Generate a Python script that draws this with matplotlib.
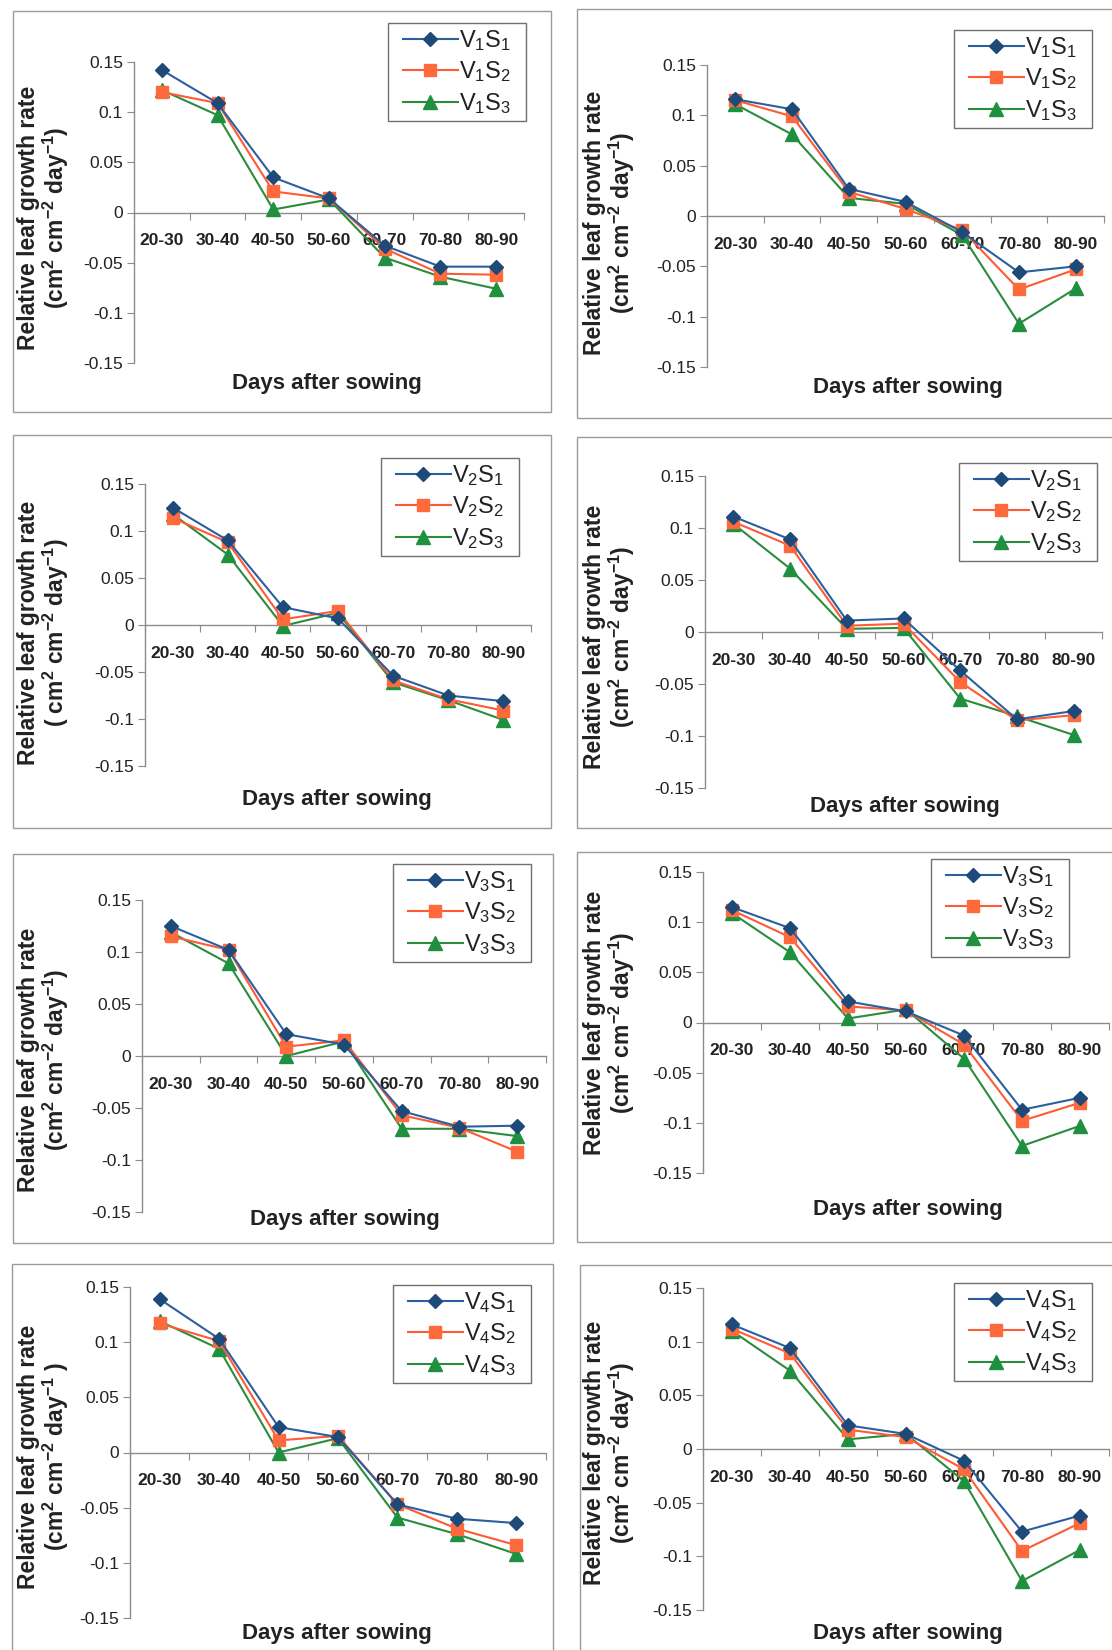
import matplotlib
matplotlib.use('Agg')
import matplotlib.pyplot as plt
from matplotlib.patches import Rectangle
from matplotlib.ticker import FixedLocator, NullFormatter, FixedFormatter

W, H = 1112, 1650
DPI = 100

plt.rcParams['font.family'] = ['Liberation Sans', 'DejaVu Sans']
plt.rcParams['mathtext.fontset'] = 'custom'
plt.rcParams['mathtext.rm'] = 'Liberation Sans'
plt.rcParams['mathtext.it'] = 'Liberation Sans:italic'
plt.rcParams['mathtext.bf'] = 'Liberation Sans:bold'
plt.rcParams['mathtext.default'] = 'regular'

# ---------------- data ----------------
categories = ['20-30', '30-40', '40-50', '50-60', '60-70', '70-80', '80-90']
y_ticks = [0.15, 0.1, 0.05, 0, -0.05, -0.1, -0.15]
y_tick_labels = ['0.15', '0.1', '0.05', '0', '-0.05', '-0.1', '-0.15']
x_label = 'Days after sowing'

# Row 1, left (V1)
v1a_s1 = [0.142, 0.109, 0.035, 0.014, -0.033, -0.054, -0.054]
v1a_s2 = [0.120, 0.109, 0.021, 0.014, -0.036, -0.061, -0.062]
v1a_s3 = [0.122, 0.097, 0.003, 0.013, -0.045, -0.064, -0.076]
# Row 1, right (V1)
v1b_s1 = [0.116, 0.106, 0.027, 0.014, -0.016, -0.056, -0.050]
v1b_s2 = [0.115, 0.099, 0.024, 0.007, -0.014, -0.073, -0.053]
v1b_s3 = [0.111, 0.081, 0.018, 0.012, -0.019, -0.107, -0.072]
# Row 2, left (V2)
v2a_s1 = [0.125, 0.090, 0.019, 0.007, -0.054, -0.075, -0.081]
v2a_s2 = [0.114, 0.088, 0.006, 0.015, -0.059, -0.079, -0.091]
v2a_s3 = [0.118, 0.075, -0.001, 0.013, -0.061, -0.080, -0.101]
# Row 2, right (V2)
v2b_s1 = [0.111, 0.089, 0.011, 0.013, -0.037, -0.084, -0.076]
v2b_s2 = [0.106, 0.083, 0.006, 0.008, -0.048, -0.085, -0.080]
v2b_s3 = [0.104, 0.061, 0.003, 0.004, -0.064, -0.081, -0.099]
# Row 3, left (V3)
v3a_s1 = [0.125, 0.102, 0.021, 0.011, -0.053, -0.068, -0.067]
v3a_s2 = [0.115, 0.102, 0.009, 0.015, -0.057, -0.069, -0.092]
v3a_s3 = [0.119, 0.089, 0.000, 0.014, -0.070, -0.070, -0.077]
# Row 3, right (V3)
v3b_s1 = [0.115, 0.094, 0.021, 0.011, -0.013, -0.087, -0.075]
v3b_s2 = [0.112, 0.085, 0.016, 0.012, -0.022, -0.098, -0.080]
v3b_s3 = [0.109, 0.070, 0.004, 0.013, -0.036, -0.123, -0.103]
# Row 4, left (V4)
v4a_s1 = [0.139, 0.103, 0.023, 0.014, -0.047, -0.060, -0.064]
v4a_s2 = [0.117, 0.101, 0.011, 0.015, -0.047, -0.069, -0.084]
v4a_s3 = [0.119, 0.094, 0.000, 0.013, -0.059, -0.074, -0.092]
# Row 4, right (V4)
v4b_s1 = [0.116, 0.094, 0.022, 0.014, -0.011, -0.077, -0.062]
v4b_s2 = [0.112, 0.089, 0.018, 0.011, -0.019, -0.095, -0.069]
v4b_s3 = [0.110, 0.073, 0.009, 0.014, -0.030, -0.123, -0.094]

v1_names = ['V$_1$S$_1$', 'V$_1$S$_2$', 'V$_1$S$_3$']
v2_names = ['V$_2$S$_1$', 'V$_2$S$_2$', 'V$_2$S$_3$']
v3_names = ['V$_3$S$_1$', 'V$_3$S$_2$', 'V$_3$S$_3$']
v4_names = ['V$_4$S$_1$', 'V$_4$S$_2$', 'V$_4$S$_3$']

ylab_std = 'Relative leaf growth rate\n(cm$^{\\mathbf{2}}$ cm$^{\\mathbf{-2}}$ day$^{\\mathbf{-1}}$)'
ylab_p3 = 'Relative leaf growth rate\n( cm$^{\\mathbf{2}}$ cm$^{\\mathbf{-2}}$ day$^{\\mathbf{-1}}$)'
ylab_p7 = 'Relative leaf growth rate\n(cm$^{\\mathbf{2}}$ cm$^{\\mathbf{-2}}$ day$^{\\mathbf{-1}}$ )'

# ---------------- layout (pixels) ----------------
panels = [
    dict(names=v1_names, data=(v1a_s1, v1a_s2, v1a_s3), frame=(13, 11, 551, 412),
         axes=(134, 524, 62, 363), leg=(526, 23), xl=(327, 383), yl=(44, 218), ylab=ylab_std),
    dict(names=v1_names, data=(v1b_s1, v1b_s2, v1b_s3), frame=(577, 9, 1125, 418),
         axes=(707, 1104, 65, 367), leg=(1092, 30), xl=(908, 388), yl=(610, 223), ylab=ylab_std),
    dict(names=v2_names, data=(v2a_s1, v2a_s2, v2a_s3), frame=(13, 435, 551, 828),
         axes=(145, 531, 484, 766), leg=(519, 458), xl=(337, 800), yl=(44, 633), ylab=ylab_p3),
    dict(names=v2_names, data=(v2b_s1, v2b_s2, v2b_s3), frame=(577, 437, 1125, 828),
         axes=(705, 1102, 476, 788), leg=(1097, 463), xl=(905, 807), yl=(610, 637), ylab=ylab_std),
    dict(names=v3_names, data=(v3a_s1, v3a_s2, v3a_s3), frame=(13, 854, 553, 1243),
         axes=(142, 546, 900, 1212), leg=(531, 864), xl=(345, 1220), yl=(44, 1060), ylab=ylab_std),
    dict(names=v3_names, data=(v3b_s1, v3b_s2, v3b_s3), frame=(577, 852, 1125, 1242),
         axes=(703, 1109, 872, 1173), leg=(1069, 859), xl=(908, 1210), yl=(610, 1023), ylab=ylab_std),
    dict(names=v4_names, data=(v4a_s1, v4a_s2, v4a_s3), frame=(12, 1264, 553, 1700),
         axes=(130, 546, 1287, 1618), leg=(531, 1285), xl=(337, 1633), yl=(44, 1457), ylab=ylab_p7),
    dict(names=v4_names, data=(v4b_s1, v4b_s2, v4b_s3), frame=(580, 1265, 1125, 1700),
         axes=(703, 1109, 1288, 1610), leg=(1092, 1283), xl=(908, 1633), yl=(610, 1453), ylab=ylab_std),
]

line_colors = ['#2b5f9f', '#ff5a36', '#2a8c3c']
face_colors = ['#1d4a78', '#ff6a3d', '#1f9040']
markers = ['D', 's', '^']
msizes = [7.5, 8.5, 10]
LEG_HPAD = 15   # px horizontal padding of legend box
LEG_VPAD = 5    # px vertical padding

fig = plt.figure(figsize=(W / DPI, H / DPI), dpi=DPI)
fig.patch.set_facecolor('white')


def fx(x):
    return x / W


def fy(y):
    return 1 - y / H


legends = []
for p in panels:
    l, t, r, b = p['frame']
    fig.patches.append(Rectangle((fx(l), fy(b)), fx(r) - fx(l), fy(t) - fy(b),
                                 transform=fig.transFigure, fill=False,
                                 edgecolor='#9a9a9a', linewidth=1.0, zorder=0))
    al, ar, at, ab = p['axes']
    ax = fig.add_axes([fx(al), fy(ab), fx(ar) - fx(al), fy(at) - fy(ab)])
    ax.set_facecolor('none')
    x = list(range(len(categories)))
    handles = []
    for i, ys in enumerate(p['data']):
        h, = ax.plot(x, ys, color=line_colors[i], linewidth=1.5,
                     marker=markers[i], markersize=msizes[i],
                     markerfacecolor=face_colors[i], markeredgecolor=face_colors[i],
                     label=p['names'][i], clip_on=False, zorder=3 + (2 - i))
        handles.append(h)
    ax.set_xlim(-0.5, len(categories) - 0.5)
    ax.set_ylim(-0.15, 0.15)
    for s in ['top', 'right']:
        ax.spines[s].set_visible(False)
    ax.spines['bottom'].set_position(('data', 0))
    ax.spines['bottom'].set_color('#8c8c8c')
    ax.spines['left'].set_color('#8c8c8c')
    ax.spines['bottom'].set_linewidth(1.0)
    ax.spines['left'].set_linewidth(1.0)
    ax.xaxis.set_major_locator(FixedLocator([k - 0.5 for k in range(len(categories) + 1)]))
    ax.xaxis.set_major_formatter(NullFormatter())
    ax.xaxis.set_minor_locator(FixedLocator(x))
    ax.xaxis.set_minor_formatter(FixedFormatter(categories))
    ax.tick_params(axis='x', which='major', direction='out', length=5, color='#8c8c8c')
    ax.tick_params(axis='x', which='minor', length=0, pad=15, labelsize=12.5,
                   labelcolor='#222222')
    for lab in ax.get_xticklabels(minor=True):
        lab.set_fontweight('bold')
    ax.yaxis.set_major_locator(FixedLocator(y_ticks))
    ax.yaxis.set_major_formatter(FixedFormatter(y_tick_labels))
    ax.tick_params(axis='y', direction='out', length=5, color='#8c8c8c',
                   labelsize=12.5, labelcolor='#222222', pad=3)
    lr, lt = p['leg']
    leg = ax.legend(handles=handles, loc='upper right',
                    bbox_to_anchor=(fx(lr - LEG_HPAD), fy(lt + LEG_VPAD)),
                    bbox_transform=fig.transFigure,
                    borderaxespad=0, borderpad=0.0, fontsize=17, frameon=False,
                    handlelength=2.3, handletextpad=0.05, labelspacing=0.28,
                    markerscale=1.0)
    for txt in leg.get_texts():
        txt.set_color('#222222')
    legends.append((leg, lr, lt))
    fig.text(fx(p['xl'][0]), fy(p['xl'][1]), x_label, ha='center', va='center',
             fontsize=16, fontweight='bold', color='#222222')
    fig.text(fx(p['yl'][0]), fy(p['yl'][1]), p['ylab'], ha='center', va='center',
             rotation=90, fontsize=16.5, fontweight='bold', color='#222222',
             linespacing=1.05, multialignment='center')

# draw legend boxes sized to the legend contents
fig.canvas.draw()
for leg, lr, lt in legends:
    bb = leg.get_window_extent()
    x0 = bb.x0 - LEG_HPAD
    y0 = bb.y0 - LEG_VPAD
    x1 = lr
    y1 = H - lt
    fig.patches.append(Rectangle((x0 / W, y0 / H), (x1 - x0) / W, (y1 - y0) / H,
                                 transform=fig.transFigure, facecolor='none',
                                 edgecolor='#707070', linewidth=1.0, zorder=1))

fig.savefig('out.png', dpi=DPI, facecolor='white')
